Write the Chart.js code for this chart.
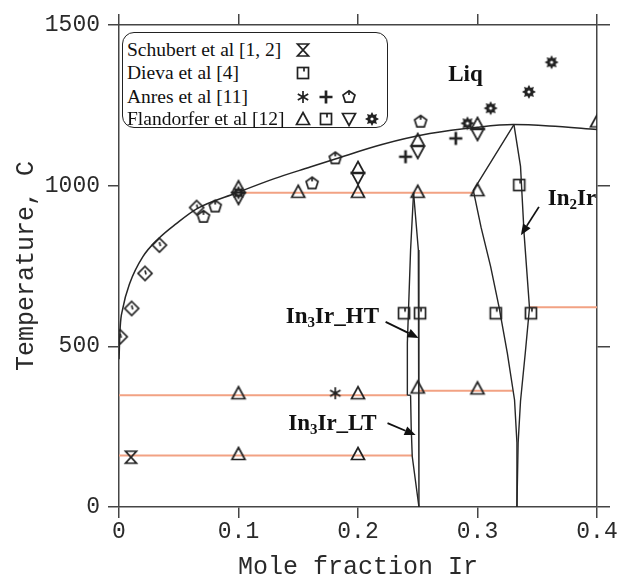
<!DOCTYPE html>
<html><head><meta charset="utf-8">
<script src="https://cdn.jsdelivr.net/npm/chart.js@4.4.0/dist/chart.umd.min.js"></script>
<style>
html,body{margin:0;padding:0;background:#fff;}
#wrap{position:relative;width:626px;height:575px;overflow:hidden;}
canvas#c{position:absolute;left:0;top:0;}
.lbl{position:absolute;font-family:'Liberation Serif','Times New Roman',serif;font-weight:bold;font-size:23px;color:#111;white-space:nowrap;transform:translate(-50%,-50%);line-height:1;}
.lbl sub{font-size:15px;vertical-align:-4px;line-height:0;}
#legend{position:absolute;left:122px;top:32px;width:266px;height:96px;box-sizing:border-box;border:1.6px solid #222;border-radius:12px;background:#fff;font-family:'Liberation Serif','Times New Roman',serif;font-size:19.5px;color:#111;}
#legend .row{position:absolute;left:4px;white-space:nowrap;line-height:1;transform:translateY(-50%);}
#legend img{position:absolute;transform:translate(-50%,-50%);}
</style></head><body>
<div id="wrap"><canvas id="c" width="626" height="575"></canvas><div id="legend"></div></div>
<script>
// ---------- tick labels ----------
const xTickLabels = ['0', '0.1', '0.2', '0.3', '0.4'];
const yTickLabels = ['0', '500', '1000', '1500'];

// ---------- phase boundaries (mole fraction Ir, temperature C) ----------
const liqX = [0, 0.001, 0.003, 0.009, 0.02, 0.033, 0.048, 0.065, 0.0987, 0.13, 0.16, 0.181, 0.22, 0.26, 0.3, 0.33, 0.36, 0.4];
const liqT = [460, 560, 615, 696, 779, 835, 882, 928, 978, 1022, 1058, 1083, 1128, 1162, 1182, 1190, 1186, 1175];

const htLeftX = [0.2465, 0.244, 0.2413, 0.2413];
const htLeftT = [978, 800, 510, 348];
const htRightX = [0.2465, 0.2505, 0.251, 0.251];
const htRightT = [978, 800, 500, 0];
const htBottomX = [0.2413, 0.244];
const htBottomT = [348, 348];
const ltLeftX = [0.244, 0.2445, 0.2454, 0.251];
const ltLeftT = [348, 250, 157, 0];

const in2LeftX = [0.3305, 0.2965, 0.303, 0.311, 0.318, 0.325, 0.331, 0.333, 0.333];
const in2LeftT = [1190, 985, 870, 748, 623, 478, 333, 200, 0];
const in2RightX = [0.3305, 0.336, 0.339, 0.3435, 0.34, 0.336, 0.334, 0.333];
const in2RightT = [1190, 1060, 850, 620, 480, 330, 200, 0];

// invariant (horizontal) lines
const inv980X = [0.0987, 0.2965], inv980T = [978, 978];
const inv620X = [0.3435, 0.4],    inv620T = [622, 622];
const inv350X = [0, 0.2413],      inv350T = [348, 348];
const inv362X = [0.251, 0.3295],  inv362T = [362, 362];
const inv160X = [0, 0.2454],      inv160T = [160, 160];

// ---------- experimental points ----------
const schubertX = [0.01], schubertT = [155];
const dievaX = [0.2385, 0.2519, 0.3153, 0.3447], dievaT = [603, 603, 603, 603];
const anresStarX = [0.181], anresStarT = [354];
const anresPlusX = [0.2398, 0.2818], anresPlusT = [1090, 1147];
const anresPentX = [0.0707, 0.0805, 0.1616, 0.181, 0.2524], anresPentT = [903, 935, 1007, 1085, 1199];
const otherDiaX = [0.001, 0.0106, 0.0218, 0.0338, 0.065], otherDiaT = [530, 618, 727, 815, 932];
const flTriX = [0.1, 0.15, 0.2, 0.2, 0.25, 0.25, 0.3, 0.3, 0.1, 0.2, 0.25, 0.3, 0.1, 0.2, 0.4];
const flTriT = [995, 981, 1055, 981, 1142, 981, 1192, 986, 354, 354, 372, 369, 165, 165, 1200];
const flTriDownX = [0.1, 0.2, 0.25, 0.3], flTriDownT = [962, 1024, 1105, 1161];
const flSqX = [0.3349], flSqT = [1002];
const flGearX = [0.1, 0.2916, 0.311, 0.343, 0.362], flGearT = [978, 1194, 1241, 1292, 1384];

// ---------- annotations ----------
const labelHtml = ['Liq', 'In<sub>2</sub>Ir', 'In<sub>3</sub>Ir_HT', 'In<sub>3</sub>Ir_LT'];
const labelX = [0.290, 0.379, 0.1786, 0.1786];
const labelT = [1351, 965, 598, 265];
const arrowFromX = [0.3514, 0.2231, 0.2247], arrowFromT = [934, 576, 261];
const arrowToX = [0.3363, 0.2507, 0.2482],   arrowToT = [846, 526, 224];

const legendNames = ['Schubert et al [1, 2]', 'Dieva et al [4]', 'Anres et al [11]', 'Flandorfer et al [12]'];

// ---------- marker glyphs ----------
const INK = '#222';
function mk(draw) {
  const c = document.createElement('canvas'); c.width = 18; c.height = 18;
  const g = c.getContext('2d'); g.translate(9, 9);
  g.strokeStyle = INK; g.fillStyle = INK; g.lineWidth = 1.7; g.lineJoin = 'miter';
  draw(g); return c;
}
const M = {
  hour: mk(g => { g.beginPath(); g.moveTo(-5.5, -6); g.lineTo(5.5, -6); g.lineTo(-5.5, 6); g.lineTo(5.5, 6); g.closePath(); g.stroke(); }),
  sq: mk(g => { g.strokeRect(-5.5, -5.5, 11, 11); g.beginPath(); g.moveTo(1, -5.5); g.lineTo(1, -1.5); g.stroke(); }),
  star: mk(g => { g.beginPath(); for (let a of [90, 30, -30]) { const r = a * Math.PI / 180; g.moveTo(-6 * Math.cos(r), -6 * Math.sin(r)); g.lineTo(6 * Math.cos(r), 6 * Math.sin(r)); } g.stroke(); }),
  plus: mk(g => { g.lineWidth = 2.7; g.beginPath(); g.moveTo(-6.5, 0); g.lineTo(6.5, 0); g.moveTo(0, -6.5); g.lineTo(0, 6.5); g.stroke(); }),
  pent: mk(g => { g.beginPath(); for (let i = 0; i < 5; i++) { const a = -Math.PI / 2 + i * 2 * Math.PI / 5; const px = 6.3 * Math.cos(a), py = 6.3 * Math.sin(a); i ? g.lineTo(px, py) : g.moveTo(px, py); } g.closePath(); g.stroke(); g.beginPath(); g.moveTo(0, -6); g.lineTo(0, -2); g.stroke(); }),
  tri: mk(g => { g.beginPath(); g.moveTo(0, -6.5); g.lineTo(6.5, 5.5); g.lineTo(-6.5, 5.5); g.closePath(); g.stroke(); }),
  triDown: mk(g => { g.beginPath(); g.moveTo(0, 6.5); g.lineTo(6.5, -5.5); g.lineTo(-6.5, -5.5); g.closePath(); g.stroke(); }),
  gear: mk(g => { g.beginPath(); for (let i = 0; i < 16; i++) { const a = -Math.PI / 2 + i * Math.PI / 8; const r = i % 2 ? 4.3 : 7; const px = r * Math.cos(a), py = r * Math.sin(a); i ? g.lineTo(px, py) : g.moveTo(px, py); } g.closePath(); g.fill(); g.fillStyle = '#fff'; g.beginPath(); g.arc(0, 0, 1.6, 0, 2 * Math.PI); g.fill(); }),
  dia: mk(g => { g.beginPath(); g.moveTo(0, -7); g.lineTo(7, 0); g.lineTo(0, 7); g.lineTo(-7, 0); g.closePath(); g.stroke(); g.beginPath(); g.moveTo(0, -3); g.lineTo(1, 1); g.stroke(); })
};

// ---------- legend (HTML text + same glyphs) ----------
const legendRowsSyms = [['hour'], ['sq'], ['star', 'plus', 'pent'], ['tri', 'sq', 'triDown', 'gear']];
(function buildLegend() {
  const L = document.getElementById('legend');
  const rowY = [17, 40, 64, 86], colX = [180, 203, 226, 249];
  legendNames.forEach((name, i) => {
    const d = document.createElement('div'); d.className = 'row'; d.textContent = name; d.style.top = rowY[i] + 'px'; L.appendChild(d);
    legendRowsSyms[i].forEach((s, j) => {
      const im = document.createElement('img'); im.src = M[s].toDataURL(); im.style.left = colX[j] + 'px'; im.style.top = rowY[i] + 'px'; L.appendChild(im);
    });
  });
})();

// ---------- label elements ----------
const wrap = document.getElementById('wrap');
const labelEls = labelHtml.map(h => { const d = document.createElement('div'); d.className = 'lbl'; d.innerHTML = h; wrap.appendChild(d); return d; });

// ---------- datasets ----------
const pts = (xs, ts) => xs.map((v, i) => ({ x: v, y: ts[i] }));
const LINE = '#262626', ORANGE = '#f2a283';
function lineDs(label, xs, ts, color, w, extra) {
  return Object.assign({ label, data: pts(xs, ts), showLine: true, pointRadius: 0, borderColor: color, borderWidth: w, fill: false, tension: 0, order: 2 }, extra || {});
}
function markDs(label, xs, ts, glyph) {
  return { label, data: pts(xs, ts), showLine: false, pointStyle: glyph, pointRadius: 6, borderWidth: 0, order: 0 };
}
const datasets = [
  lineDs('inv980', inv980X, inv980T, ORANGE, 2),
  lineDs('inv620', inv620X, inv620T, ORANGE, 2),
  lineDs('inv350', inv350X, inv350T, ORANGE, 2),
  lineDs('inv362', inv362X, inv362T, ORANGE, 2),
  lineDs('inv160', inv160X, inv160T, ORANGE, 2),
  lineDs('liquidus', liqX, liqT, LINE, 1.5, { cubicInterpolationMode: 'monotone', order: 1 }),
  lineDs('In3Ir_HT left', htLeftX, htLeftT, LINE, 1.4, { order: 1 }),
  lineDs('In3Ir right', htRightX, htRightT, LINE, 1.4, { order: 1 }),
  lineDs('In3Ir_HT bottom', htBottomX, htBottomT, LINE, 1.4, { order: 1 }),
  lineDs('In3Ir_LT left', ltLeftX, ltLeftT, LINE, 1.4, { order: 1 }),
  lineDs('In2Ir left', in2LeftX, in2LeftT, LINE, 1.4, { order: 1 }),
  lineDs('In2Ir right', in2RightX, in2RightT, LINE, 1.4, { order: 1 }),
  markDs('Schubert', schubertX, schubertT, M.hour),
  markDs('Dieva', dievaX, dievaT, M.sq),
  markDs('Anres *', anresStarX, anresStarT, M.star),
  markDs('Anres +', anresPlusX, anresPlusT, M.plus),
  markDs('Anres pentagon', anresPentX, anresPentT, M.pent),
  markDs('liquidus points', otherDiaX, otherDiaT, M.dia),
  markDs('Flandorfer tri', flTriX, flTriT, M.tri),
  markDs('Flandorfer tri down', flTriDownX, flTriDownT, M.triDown),
  markDs('Flandorfer sq', flSqX, flSqT, M.sq),
  markDs('Flandorfer gear', flGearX, flGearT, M.gear)
];

// ---------- annotation plugin (arrows + label placement) ----------
const annot = {
  id: 'annot',
  afterDraw(chart) {
    const { ctx, scales: { x, y } } = chart;
    ctx.save(); ctx.strokeStyle = '#111'; ctx.fillStyle = '#111'; ctx.lineWidth = 1.8;
    arrowFromX.forEach((_, i) => {
      const x0 = x.getPixelForValue(arrowFromX[i]), y0 = y.getPixelForValue(arrowFromT[i]);
      const x1 = x.getPixelForValue(arrowToX[i]), y1 = y.getPixelForValue(arrowToT[i]);
      const a = Math.atan2(y1 - y0, x1 - x0), Lh = 11, W = 4.5;
      const bx = x1 - Lh * Math.cos(a), by = y1 - Lh * Math.sin(a);
      ctx.beginPath(); ctx.moveTo(x0, y0); ctx.lineTo(bx, by); ctx.stroke();
      ctx.beginPath(); ctx.moveTo(x1, y1);
      ctx.lineTo(bx + W * Math.sin(a), by - W * Math.cos(a));
      ctx.lineTo(bx - W * Math.sin(a), by + W * Math.cos(a));
      ctx.closePath(); ctx.fill();
    });
    ctx.restore();
    labelEls.forEach((el, i) => {
      el.style.left = x.getPixelForValue(labelX[i]) + 'px';
      el.style.top = y.getPixelForValue(labelT[i]) + 'px';
    });
  }
};

const AX = '#454545';
const tickFont = { family: "'Liberation Mono', 'Courier New', monospace", size: 23 };
const titleFont = { family: "'Liberation Mono', 'Courier New', monospace", size: 25, lineHeight: 1.2 };
const gridOpt = (len) => ({ display: true, drawOnChartArea: false, drawTicks: true, tickLength: len, color: AX, lineWidth: 1.5 });
const borderOpt = { display: true, color: AX, width: 1.5 };

new Chart(document.getElementById('c'), {
  type: 'scatter',
  data: { datasets },
  plugins: [annot],
  options: {
    responsive: false, animation: false,
    layout: { padding: 0 },
    plugins: { legend: { display: false }, tooltip: { enabled: false } },
    scales: {
      x: {
        type: 'linear', position: 'bottom', min: 0, max: 0.4,
        ticks: { stepSize: 0.1, font: tickFont, color: '#2a2a2a', padding: 0, maxRotation: 0, callback: (v, i) => xTickLabels[i] },
        grid: gridOpt(11), border: borderOpt,
        title: { display: true, text: 'Mole fraction Ir', font: titleFont, color: '#2a2a2a', padding: { top: 0, bottom: -7 } },
        afterFit: s => { s.height = 68; }
      },
      xTop: {
        type: 'linear', position: 'top', min: 0, max: 0.4,
        ticks: { stepSize: 0.1, display: false },
        grid: gridOpt(11), border: borderOpt,
        afterFit: s => { s.height = 25; }
      },
      y: {
        type: 'linear', position: 'left', min: 0, max: 1500,
        ticks: { stepSize: 500, font: tickFont, color: '#2a2a2a', padding: 8, callback: (v, i) => yTickLabels[i] },
        grid: gridOpt(11), border: borderOpt,
        title: { display: true, text: 'Temperature, C', font: titleFont, color: '#2a2a2a', padding: { top: 11, bottom: 0 } },
        afterFit: s => { s.width = 119; }
      },
      yRight: {
        type: 'linear', position: 'right', min: 0, max: 1500,
        ticks: { stepSize: 500, display: false },
        grid: gridOpt(13), border: borderOpt,
        afterFit: s => { s.width = 29; }
      }
    }
  }
});
</script>
</body></html>
